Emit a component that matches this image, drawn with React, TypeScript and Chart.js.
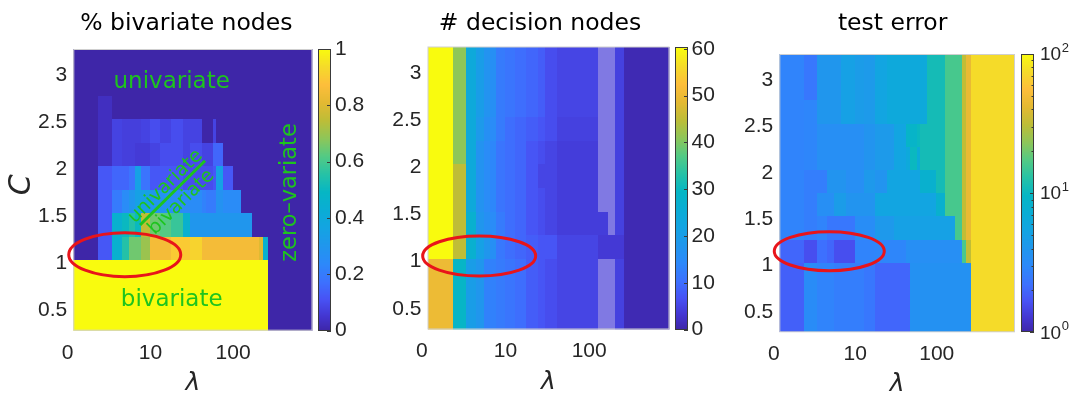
import { useEffect, useRef } from 'react';
import { Chart, registerables } from 'chart.js';

Chart.register(...registerables);

// ---------- data ----------
// λ bin edges (log axis; first/last are the axis limits)
const lambdaEdges = [1.17, 2.34, 3.4, 4.5, 5.5, 6.6, 7.7, 9.9, 12.9, 17.6, 24.5, 30, 41.7, 47.6, 57, 62, 76, 99, 126, 169, 206, 230, 263, 912];
// C bin edges
const cEdges = [0.28, 0.53, 0.78, 1.03, 1.28, 1.53, 1.78, 2.03, 2.28, 2.53, 2.78, 3.03, 3.28];
const lambdaTicks = [1, 10, 100];
const lambdaTickLabels = ['0', '10', '100'];
const cTicks = [0.5, 1, 1.5, 2, 2.5, 3];

// rows from lowest C bin to highest; one value per λ bin
const bivariateShare: number[][] = [
  [1, 1, 1, 1, 1, 1, 1, 1, 1, 1, 1, 1, 1, 1, 1, 1, 1, 1, 1, 1, 1, 1, 0],
  [1, 1, 1, 1, 1, 1, 1, 1, 1, 1, 1, 1, 1, 1, 1, 1, 1, 1, 1, 1, 1, 1, 0],
  [1, 1, 1, 1, 1, 1, 1, 1, 1, 1, 1, 1, 1, 1, 1, 1, 1, 1, 1, 1, 1, 1, 0],
  [0, 0.12, 0.45, 0.55, 0.65, 0.65, 0.7, 0.85, 0.85, 0.9, 0.9, 0.92, 0.85, 0.85, 0.85, 0.85, 0.85, 0.85, 0.85, 0.85, 0.8, 0.45, 0],
  [0, 0.12, 0.45, 0.5, 0.55, 0.5, 0.75, 0.65, 0.62, 0.58, 0.45, 0.3, 0.3, 0.3, 0.3, 0.3, 0.3, 0.3, 0.3, 0, 0, 0, 0],
  [0, 0.12, 0.2, 0.25, 0.3, 0.35, 0.35, 0.3, 0.28, 0.25, 0.25, 0.25, 0.22, 0.2, 0.2, 0.28, 0.25, 0.25, 0, 0, 0, 0, 0],
  [0, 0.12, 0.15, 0.15, 0.18, 0.35, 0.18, 0.12, 0.12, 0.12, 0.1, 0.1, 0.1, 0.1, 0.12, 0.35, 0.12, 0, 0, 0, 0, 0, 0],
  [0, 0.03, 0.08, 0.07, 0.07, 0.06, 0.06, 0.08, 0.1, 0.1, 0.08, 0.1, 0.08, 0.08, 0.15, 0.15, 0, 0, 0, 0, 0, 0, 0],
  [0, 0.03, 0.08, 0.07, 0.07, 0.07, 0.08, 0.1, 0.08, 0.1, 0.08, 0.08, 0, 0, 0.08, 0, 0, 0, 0, 0, 0, 0, 0],
  [0, 0.03, 0, 0, 0, 0, 0, 0, 0, 0, 0, 0, 0, 0, 0, 0, 0, 0, 0, 0, 0, 0, 0],
  [0, 0, 0, 0, 0, 0, 0, 0, 0, 0, 0, 0, 0, 0, 0, 0, 0, 0, 0, 0, 0, 0, 0],
  [0, 0, 0, 0, 0, 0, 0, 0, 0, 0, 0, 0, 0, 0, 0, 0, 0, 0, 0, 0, 0, 0, 0],
];

// null = no value (drawn pale)
const decisionNodes: (number | null)[][] = [
  [50, 29, 20, 18, 13, 13, 12, 11, 10, 8, 7, 6, 5, 5, 5, 5, 5, 5, null, null, 4.5, 4.5, 0.8],
  [50, 29, 20, 18, 13, 13, 12, 11, 10, 8, 7, 6, 5, 5, 5, 5, 5, 5, null, null, 4.5, 4.5, 0.8],
  [50, 29, 20, 18, 13, 13, 12, 11, 10, 8, 7, 6, 5, 5, 5, 5, 5, 5, null, null, 4.5, 4.5, 0.8],
  [60, 45, 27, 21, 18, 16, 11.5, 10, 9, 8, 7, 7, 5, 5, 5, 5, 5, 5, 3.5, 3.5, 3.5, 3.5, 0.8],
  [60, 45, 27, 18, 16, 15, 12, 10, 9, 7, 6, 5, 4, 4, 4, 4, 4, 4, 4, null, 4.5, 4.5, 0.8],
  [60, 45, 24, 17, 15, 14, 11, 10, 9, 7, 6, 5, 4, 4, 4, 4, 4, 4, null, null, 4.5, 4.5, 0.8],
  [60, 45, 24, 17, 15, 14, 11, 10, 9, 7, 5, 5, 4, 4, 4, 4, 4, 4, null, null, 4.5, 4.5, 0.8],
  [60, 41, 24, 17, 15, 14, 11, 10, 9, 7, 6, 5, 4, 4, 4, 4, 4, 4, null, null, 4.5, 4.5, 0.8],
  [60, 41, 24, 19, 16, 15, 12, 10, 9, 8, 7, 6, 4.5, 4.5, 4.5, 4.5, 4.5, 4.5, null, null, 4.5, 4.5, 0.8],
  [60, 41, 24, 20, 17, 16, 12, 11, 10, 9, 8, 6, 5, 5, 5, 5, 5, 5, null, null, 4.5, 4.5, 0.8],
  [60, 41, 24, 20, 17, 16, 12, 11, 10, 9, 8, 6, 5, 5, 5, 5, 5, 5, null, null, 4.5, 4.5, 0.8],
  [60, 41, 24, 20, 17, 16, 12, 11, 10, 9, 8, 6, 5, 5, 5, 5, 5, 5, null, null, 4.5, 4.5, 0.8],
];

const testError: number[][] = [
  [1.9, 3.2, 2.8, 2.8, 2.6, 2.6, 2.6, 2.6, 2.4, 2.0, 2.0, 2.0, 2.0, 3.6, 3.6, 3.6, 3.6, 3.6, 3.6, 3.6, 3.6, 3.6, 75],
  [1.9, 3.2, 2.8, 2.8, 2.6, 2.6, 2.6, 2.6, 2.4, 2.0, 2.0, 2.0, 2.0, 3.6, 3.6, 3.6, 3.6, 3.6, 3.6, 3.6, 3.6, 3.6, 75],
  [1.9, 3.2, 2.8, 2.8, 2.6, 2.6, 2.6, 2.6, 2.4, 2.0, 2.0, 2.0, 2.0, 3.6, 3.6, 3.6, 3.6, 3.6, 3.6, 3.6, 3.6, 3.6, 75],
  [2.0, 1.6, 2.2, 2.0, 1.6, 1.6, 1.6, 2.8, 2.8, 2.9, 2.9, 2.9, 3.4, 3.4, 3.4, 3.4, 3.4, 3.4, 3.4, 3.4, 16, 32, 75],
  [2.8, 2.6, 2.8, 2.4, 2.4, 2.4, 2.4, 3.3, 3.3, 4.2, 4.2, 5, 5, 5, 5, 5, 5, 5, 5, 16, 32, 44, 75],
  [2.8, 2.6, 3.4, 3.4, 4.5, 4.5, 3.8, 3.8, 3.8, 5.5, 5.5, 5.5, 5.5, 5.5, 5.5, 5.5, 5.5, 8, 16, 16, 32, 44, 75],
  [2.8, 2.6, 2.6, 3.8, 3.8, 3.8, 3.4, 3.4, 4.2, 3.8, 5.5, 5.5, 5.5, 5.5, 5.5, 8, 8, 11, 16, 16, 32, 44, 75],
  [2.8, 2.9, 3.4, 3.4, 3.4, 3.4, 3.4, 3.4, 3.8, 4.3, 4.3, 5.5, 6.3, 10, 7, 11, 11, 11, 16, 16, 32, 44, 75],
  [2.8, 2.9, 3.4, 3.4, 3.4, 3.4, 3.4, 3.4, 3.8, 4.3, 4.3, 5.5, 9, 9, 10, 11, 11, 11, 16, 16, 32, 44, 75],
  [2.8, 2.9, 4, 4, 4, 5, 5, 4.5, 4.3, 5.5, 6.3, 6.3, 6.3, 6.3, 6.3, 6.3, 11, 11, 16, 16, 32, 44, 75],
  [2.8, 2.4, 4, 4, 4, 5, 5, 4.5, 4.3, 5.5, 6.3, 6.3, 6.3, 6.3, 6.3, 6.3, 11, 11, 16, 16, 32, 44, 75],
  [2.8, 2.4, 4, 4, 4, 5, 5, 4.5, 4.3, 5.5, 6.3, 6.3, 6.3, 6.3, 6.3, 6.3, 11, 11, 16, 16, 32, 44, 75],
];

const shareTicks = [0, 0.2, 0.4, 0.6, 0.8, 1];
const shareTickLabels = ['0', '0.2', '0.4', '0.6', '0.8', '1'];
const nodeTicks = [0, 10, 20, 30, 40, 50, 60];
const nodeTickLabels = ['0', '10', '20', '30', '40', '50', '60'];
const errorTicks = [1, 10, 100];
const errorTickBase = '10';
const errorTickExponents = ['0', '1', '2'];
const errorMinorTicks = [2, 3, 4, 5, 6, 7, 8, 9, 20, 30, 40, 50, 60, 70, 80, 90];

// ---------- styling ----------
const FONT = '"DejaVu Sans", sans-serif';
const TICK_FONT = '"Liberation Sans", Arial, sans-serif';
const TICK_COLOR = '#262626';
const GREEN = '#1ec41e';
const RED = '#e8141a';
const NAN_COLOR = '#8079e3';
const H = 395;

const PARULA: [number, [number, number, number]][] = [
  [0.0, [62, 38, 168]],
  [0.05, [67, 53, 208]],
  [0.111, [72, 82, 244]],
  [0.17, [61, 112, 254]],
  [0.238, [44, 137, 250]],
  [0.3, [32, 150, 237]],
  [0.365, [19, 164, 226]],
  [0.43, [10, 173, 212]],
  [0.492, [6, 182, 196]],
  [0.555, [38, 194, 166]],
  [0.619, [83, 202, 132]],
  [0.68, [140, 198, 90]],
  [0.746, [189, 189, 55]],
  [0.81, [228, 185, 50]],
  [0.873, [253, 190, 59]],
  [0.937, [245, 219, 41]],
  [1.0, [249, 251, 14]],
];

function parula(t: number): string {
  const u = Math.min(1, Math.max(0, t));
  for (let i = 1; i < PARULA.length; i++) {
    const [t1, c1] = PARULA[i];
    const [t0, c0] = PARULA[i - 1];
    if (u <= t1) {
      const f = (u - t0) / (t1 - t0);
      const c = c0.map((v, k) => Math.round(v + (c1[k] - v) * f));
      return `rgb(${c[0]},${c[1]},${c[2]})`;
    }
  }
  return 'rgb(249,251,14)';
}

type Ann = { kind: 'text'; text: string; lambda: number; c: number; size: number; angle: number }
  | { kind: 'line'; l0: number; c0: number; l1: number; c1: number };

type Panel = {
  title: string;
  values: (number | null)[][];
  toUnit: (v: number) => number;
  cbType: 'linear' | 'logarithmic';
  cbMin: number;
  cbMax: number;
  cbTicks: number[];
  cbTickLabels: string[] | null;
  cbExponents: string[] | null;
  cbMinor: number[];
  left: number;
  width: number;
  yWidth: number;
  cbWidth: number;
  plotTop: number;
  plotBottom: number;
  cbLabelPad: number;
  titleShift: number;
  ellipse: { lambda: number; c: number; rx: number; ry: number };
  yTitle: string | null;
  notes: Ann[];
};

const panels: Panel[] = [
  {
    title: '% bivariate nodes',
    values: bivariateShare,
    toUnit: (v) => v,
    cbType: 'linear', cbMin: 0, cbMax: 1,
    cbTicks: shareTicks, cbTickLabels: shareTickLabels, cbExponents: null, cbMinor: [],
    left: 0, width: 370, yWidth: 73.3, cbWidth: 57.5, plotTop: 49, plotBottom: 330.7,
    cbLabelPad: 22.5, titleShift: -6.5,
    ellipse: { lambda: 4.9, c: 1.09, rx: 56, ry: 22 },
    yTitle: 'C',
    notes: [
      { kind: 'text', text: 'univariate', lambda: 18.1, c: 2.865, size: 23, angle: 0 },
      { kind: 'text', text: 'bivariate', lambda: 18.1, c: 0.543, size: 23, angle: 0 },
      { kind: 'text', text: 'zero\u2013variate', lambda: 577, c: 1.752, size: 22.5, angle: -90 },
      { kind: 'text', text: 'univariate', lambda: 16.8, c: 1.779, size: 19, angle: -44.5 },
      { kind: 'text', text: 'bivariate', lambda: 26.1, c: 1.611, size: 19, angle: -44.5 },
      { kind: 'line', l0: 7.5, c0: 1.406, l1: 45.8, c1: 2.09 },
    ],
  },
  {
    title: '# decision nodes',
    values: decisionNodes,
    toUnit: (v) => v / 60,
    cbType: 'linear', cbMin: 0, cbMax: 60.5,
    cbTicks: nodeTicks, cbTickLabels: nodeTickLabels, cbExponents: null, cbMinor: [],
    left: 360, width: 370, yWidth: 67.5, cbWidth: 60.5, plotTop: 46.5, plotBottom: 329.5,
    cbLabelPad: 22, titleShift: -8.5,
    ellipse: { lambda: 4.85, c: 1.06, rx: 56.5, ry: 20 },
    yTitle: null,
    notes: [],
  },
  {
    title: 'test error',
    values: testError,
    toUnit: (v) => Math.log10(v) / 2,
    cbType: 'logarithmic', cbMin: 1, cbMax: 100,
    cbTicks: errorTicks, cbTickLabels: null, cbExponents: errorTickExponents, cbMinor: errorMinorTicks,
    left: 715, width: 356, yWidth: 64.3, cbWidth: 56, plotTop: 54, plotBottom: 332.3,
    cbLabelPad: 25, titleShift: -4.5,
    ellipse: { lambda: 4.8, c: 1.154, rx: 55, ry: 19.5 },
    yTitle: null,
    notes: [],
  },
];

function HeatPanel({ panel }: { panel: Panel }) {
  const ref = useRef<HTMLCanvasElement>(null);
  useEffect(() => {
    const canvas = ref.current;
    if (!canvas) return;
    const heatPlugin = {
      id: 'heat',
      beforeDatasetsDraw(chart: any) {
        const ctx: CanvasRenderingContext2D = chart.ctx;
        const xs = chart.scales.x;
        const ys = chart.scales.y;
        const ca = chart.chartArea;
        ctx.save();
        ctx.beginPath();
        ctx.rect(ca.left, ca.top, ca.right - ca.left, ca.bottom - ca.top);
        ctx.clip();
        panel.values.forEach((row, k) => {
          const y0 = Math.round(ys.getPixelForValue(cEdges[k]));
          const y1 = Math.round(ys.getPixelForValue(cEdges[k + 1]));
          row.forEach((v, j) => {
            const x0 = Math.round(xs.getPixelForValue(lambdaEdges[j]));
            const x1 = Math.round(xs.getPixelForValue(lambdaEdges[j + 1]));
            ctx.fillStyle = v == null ? NAN_COLOR : parula(panel.toUnit(v));
            ctx.fillRect(x0, y1, x1 - x0, y0 - y1);
          });
        });
        ctx.restore();
      },
      afterDraw(chart: any) {
        const ctx: CanvasRenderingContext2D = chart.ctx;
        const xs = chart.scales.x;
        const ys = chart.scales.y;
        const cb = chart.scales.cb;
        const ca = chart.chartArea;
        ctx.save();
        // plot frame
        ctx.strokeStyle = '#cfcfcf';
        ctx.lineWidth = 1;
        ctx.strokeRect(ca.left + 0.5, ca.top + 0.5, ca.right - ca.left - 1, ca.bottom - ca.top - 1);

        // colour bar
        const bx = Math.round(ca.right + 5.5);
        const bw = 13;
        const top = Math.round(cb.top);
        const bottom = Math.round(cb.bottom);
        for (let py = top; py < bottom; py++) {
          const v = cb.getValueForPixel(py + 0.5);
          ctx.fillStyle = parula(panel.toUnit(v));
          ctx.fillRect(bx, py, bw, 1);
        }
        ctx.strokeStyle = '#3a3a3a';
        ctx.lineWidth = 1;
        ctx.strokeRect(bx + 0.5, top + 0.5, bw - 1, bottom - top - 1);
        ctx.beginPath();
        panel.cbTicks.forEach((v) => {
          const y = Math.round(cb.getPixelForValue(v)) + 0.5;
          ctx.moveTo(bx + bw - 4, y);
          ctx.lineTo(bx + bw, y);
        });
        panel.cbMinor.forEach((v) => {
          const y = Math.round(cb.getPixelForValue(v)) + 0.5;
          ctx.moveTo(bx + bw - 2.5, y);
          ctx.lineTo(bx + bw, y);
        });
        ctx.stroke();

        // power-of-ten colour bar labels
        if (panel.cbExponents) {
          ctx.fillStyle = TICK_COLOR;
          ctx.textAlign = 'left';
          ctx.textBaseline = 'middle';
          panel.cbTicks.forEach((v, i) => {
            const x = cb.left + panel.cbLabelPad;
            const y = cb.getPixelForValue(v);
            ctx.font = `19px ${TICK_FONT}`;
            ctx.fillText(errorTickBase, x, y + 1);
            const w = ctx.measureText(errorTickBase).width;
            ctx.font = `13px ${TICK_FONT}`;
            ctx.fillText(panel.cbExponents![i], x + w + 0.5, y - 6);
          });
        }

        // title
        const cx = (ca.left + ca.right) / 2;
        ctx.fillStyle = '#000';
        ctx.textAlign = 'center';
        ctx.textBaseline = 'alphabetic';
        ctx.font = `23.5px ${FONT}`;
        ctx.fillText(panel.title, cx + panel.titleShift, 30);

        // x axis title
        ctx.fillStyle = TICK_COLOR;
        ctx.font = `italic 25px ${FONT}`;
        ctx.fillText('\u03BB', cx, ca.bottom + 59);

        // y axis title
        if (panel.yTitle) {
          ctx.save();
          ctx.translate(22, (ca.top + ca.bottom) / 2 - 5);
          ctx.rotate(-Math.PI / 2);
          ctx.font = `italic 30px ${FONT}`;
          ctx.textBaseline = 'middle';
          ctx.fillText(panel.yTitle, 0, 0);
          ctx.restore();
        }

        // annotations
        ctx.fillStyle = GREEN;
        ctx.strokeStyle = GREEN;
        panel.notes.forEach((n) => {
          if (n.kind === 'text') {
            ctx.save();
            ctx.translate(xs.getPixelForValue(n.lambda), ys.getPixelForValue(n.c));
            ctx.rotate((n.angle * Math.PI) / 180);
            ctx.font = `${n.size}px ${FONT}`;
            ctx.textAlign = 'center';
            ctx.textBaseline = 'alphabetic';
            ctx.fillText(n.text, 0, 0);
            ctx.restore();
          } else {
            ctx.lineWidth = 3;
            ctx.beginPath();
            ctx.moveTo(xs.getPixelForValue(n.l0), ys.getPixelForValue(n.c0));
            ctx.lineTo(xs.getPixelForValue(n.l1), ys.getPixelForValue(n.c1));
            ctx.stroke();
          }
        });

        // highlight ellipse
        const e = panel.ellipse;
        ctx.strokeStyle = RED;
        ctx.lineWidth = 3;
        ctx.beginPath();
        ctx.ellipse(xs.getPixelForValue(e.lambda), ys.getPixelForValue(e.c), e.rx, e.ry, 0, 0, Math.PI * 2);
        ctx.stroke();
        ctx.restore();
      },
    };

    const tickFont = { family: TICK_FONT, size: 21 };
    const chart = new Chart(canvas, {
      type: 'scatter',
      data: { datasets: [{ data: [], pointRadius: 0 }] },
      options: {
        responsive: false,
        animation: false,
        events: [],
        layout: { padding: { top: panel.plotTop, left: 0, right: 0, bottom: 0 } },
        plugins: { legend: { display: false }, tooltip: { enabled: false }, title: { display: false } },
        scales: {
          x: {
            type: 'logarithmic',
            position: 'bottom',
            min: lambdaEdges[0],
            max: lambdaEdges[lambdaEdges.length - 1],
            grid: { display: false, drawTicks: false, tickLength: 0 },
            border: { display: false },
            ticks: {
              autoSkip: false, maxRotation: 0, padding: 9.5, color: TICK_COLOR, font: tickFont,
              callback: (_v: any, i: number) => lambdaTickLabels[i],
            },
            afterBuildTicks: (s: any) => { s.ticks = lambdaTicks.map((v) => ({ value: v })); },
            afterFit: (s: any) => { s.height = H - panel.plotBottom; },
          },
          y: {
            type: 'linear',
            position: 'left',
            min: cEdges[0],
            max: cEdges[cEdges.length - 1],
            grid: { display: false, drawTicks: false, tickLength: 0 },
            border: { display: false },
            ticks: {
              autoSkip: false, padding: 6, color: TICK_COLOR, font: tickFont,
              callback: (v: any) => String(v),
            },
            afterBuildTicks: (s: any) => { s.ticks = cTicks.map((v) => ({ value: v })); },
            afterFit: (s: any) => { s.width = panel.yWidth; },
          },
          cb: {
            type: panel.cbType,
            position: 'right',
            min: panel.cbMin,
            max: panel.cbMax,
            grid: { display: false, drawTicks: false, tickLength: 0 },
            border: { display: false },
            ticks: {
              autoSkip: false, padding: panel.cbLabelPad, color: TICK_COLOR, font: tickFont,
              callback: (_v: any, i: number) => (panel.cbTickLabels ? panel.cbTickLabels[i] : ''),
            },
            afterBuildTicks: (s: any) => { s.ticks = panel.cbTicks.map((v) => ({ value: v })); },
            afterFit: (s: any) => { s.width = panel.cbWidth; },
          },
        },
      } as any,
      plugins: [heatPlugin],
    });
    return () => chart.destroy();
  }, [panel]);
  return (
    <canvas
      ref={ref}
      width={panel.width}
      height={H}
      style={{ position: 'absolute', left: panel.left, top: 0, width: panel.width, height: H }}
    />
  );
}

export default function App() {
  return (
    <div style={{ position: 'fixed', left: 0, top: 0, width: 1071, height: H, background: '#fff', overflow: 'hidden' }}>
      {panels.map((p, i) => (
        <HeatPanel key={i} panel={p} />
      ))}
    </div>
  );
}
